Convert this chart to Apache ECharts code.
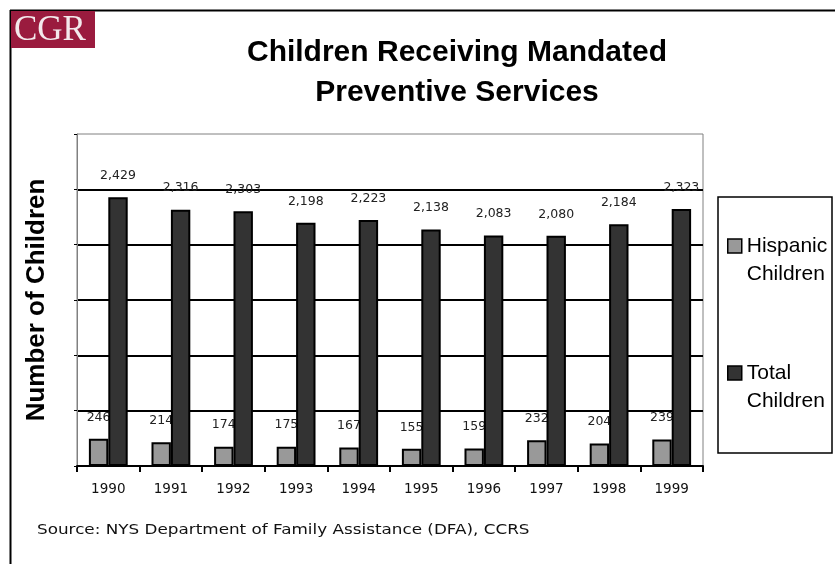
<!DOCTYPE html>
<html>
<head>
<meta charset="utf-8">
<script src="https://cdn.jsdelivr.net/npm/echarts@6/dist/echarts.min.js"></script>
<style>html,body{margin:0;padding:0;background:#fff}#c{width:835px;height:564px}</style>
</head>
<body>
<div id="c"></div>
<script>
var years = ['1990','1991','1992','1993','1994','1995','1996','1997','1998','1999'];
var hispanicChildren = [246, 214, 174, 175, 167, 155, 159, 232, 204, 239];
var totalChildren = [2429, 2316, 2303, 2198, 2223, 2138, 2083, 2080, 2184, 2323];
var seriesNames = ['Hispanic Children', 'Total Children'];
var titleText = 'Children Receiving Mandated\nPreventive Services';
var yAxisTitle = 'Number of Children';
var sourceText = 'Source: NYS Department of Family Assistance (DFA), CCRS';

var chart = echarts.init(document.getElementById('c'), null, {renderer: 'canvas'});
var sans = 'Liberation Sans, Arial, Helvetica, sans-serif';
var wide = 'DejaVu Sans, Verdana, sans-serif';
function fmt(p) { return Number(p.value).toLocaleString('en-US'); }

var option = {
  animation: false,
  backgroundColor: '#ffffff',
  title: {
    text: titleText,
    left: 452, top: 28, textAlign: 'center',
    textStyle: {fontFamily: sans, fontSize: 30, fontWeight: 'bold', lineHeight: 40, color: '#000'}
  },
  legend: {
    orient: 'vertical',
    left: 727, top: 204, padding: 0,
    itemWidth: 14, itemHeight: 14, itemGap: 43,
    icon: 'rect',
    itemStyle: {borderColor: '#000', borderWidth: 1.5},
    formatter: function (n) { return '\n' + n.replace(' ', '\n'); },
    textStyle: {fontFamily: sans, fontSize: 21, lineHeight: 28, color: '#000'},
    data: seriesNames
  },
  grid: {
    left: 77, right: 132, top: 134, bottom: 98,
    show: true, borderColor: '#808080', borderWidth: 1, backgroundColor: 'transparent'
  },
  xAxis: {
    type: 'category',
    data: years,
    axisLine: {lineStyle: {color: '#000', width: 2}},
    axisTick: {show: true, length: 6, lineStyle: {color: '#000', width: 2}},
    axisLabel: {margin: 16, fontFamily: wide, fontSize: 13.5, color: '#111'}
  },
  yAxis: {
    type: 'value',
    min: 0, max: 3000, interval: 500,
    name: yAxisTitle,
    nameLocation: 'middle', nameGap: 27,
    nameTextStyle: {fontFamily: sans, fontSize: 26, fontWeight: 'bold', color: '#000'},
    axisLine: {show: true, lineStyle: {color: '#808080', width: 1}},
    axisTick: {show: true, length: 3, lineStyle: {color: '#000', width: 1}},
    axisLabel: {show: false},
    splitLine: {show: true, lineStyle: {color: ['#000','#000','#000','#000','#000','#000','rgba(0,0,0,0)'], width: 2}}
  },
  series: [
    {
      name: seriesNames[0], type: 'bar', data: hispanicChildren,
      barCategoryGap: '38%', barGap: '0%', z: 2,
      itemStyle: {color: '#999999', borderColor: '#000', borderWidth: 2},
      label: {show: true, position: 'top', distance: 15, formatter: fmt,
              fontFamily: wide, fontSize: 12.5, color: '#222'}
    },
    {
      name: seriesNames[1], type: 'bar', data: totalChildren,
      barCategoryGap: '38%', barGap: '0%', z: 3,
      itemStyle: {color: '#333333', borderColor: '#000', borderWidth: 2},
      label: {show: true, position: 'top', distance: 15, formatter: fmt,
              fontFamily: wide, fontSize: 12.5, color: '#222'}
    }
  ],
  graphic: [
    {type: 'line', z: 10, shape: {x1: 10, y1: 10.5, x2: 835, y2: 10.5}, style: {stroke: '#000', lineWidth: 2}},
    {type: 'line', z: 10, shape: {x1: 10.5, y1: 10, x2: 10.5, y2: 564}, style: {stroke: '#000', lineWidth: 2}},
    {type: 'rect', z: 11, shape: {x: 11, y: 11, width: 84, height: 37}, style: {fill: '#9a1b3e'}},
    {type: 'text', z: 12, left: 14, top: 13,
     style: {text: 'CGR', font: '35px "Liberation Serif", "Times New Roman", serif', fill: '#f3e9ec'}},
    {type: 'rect', z: 5, shape: {x: 718, y: 197, width: 114, height: 256}, style: {fill: 'none', stroke: '#000', lineWidth: 1.5}},
    {type: 'text', z: 5, x: 37, y: 523, scaleX: 1.2,
     style: {text: sourceText, font: '14px "DejaVu Sans", Verdana, sans-serif', fill: '#111'}}
  ]
};
chart.setOption(option);
</script>
</body>
</html>
